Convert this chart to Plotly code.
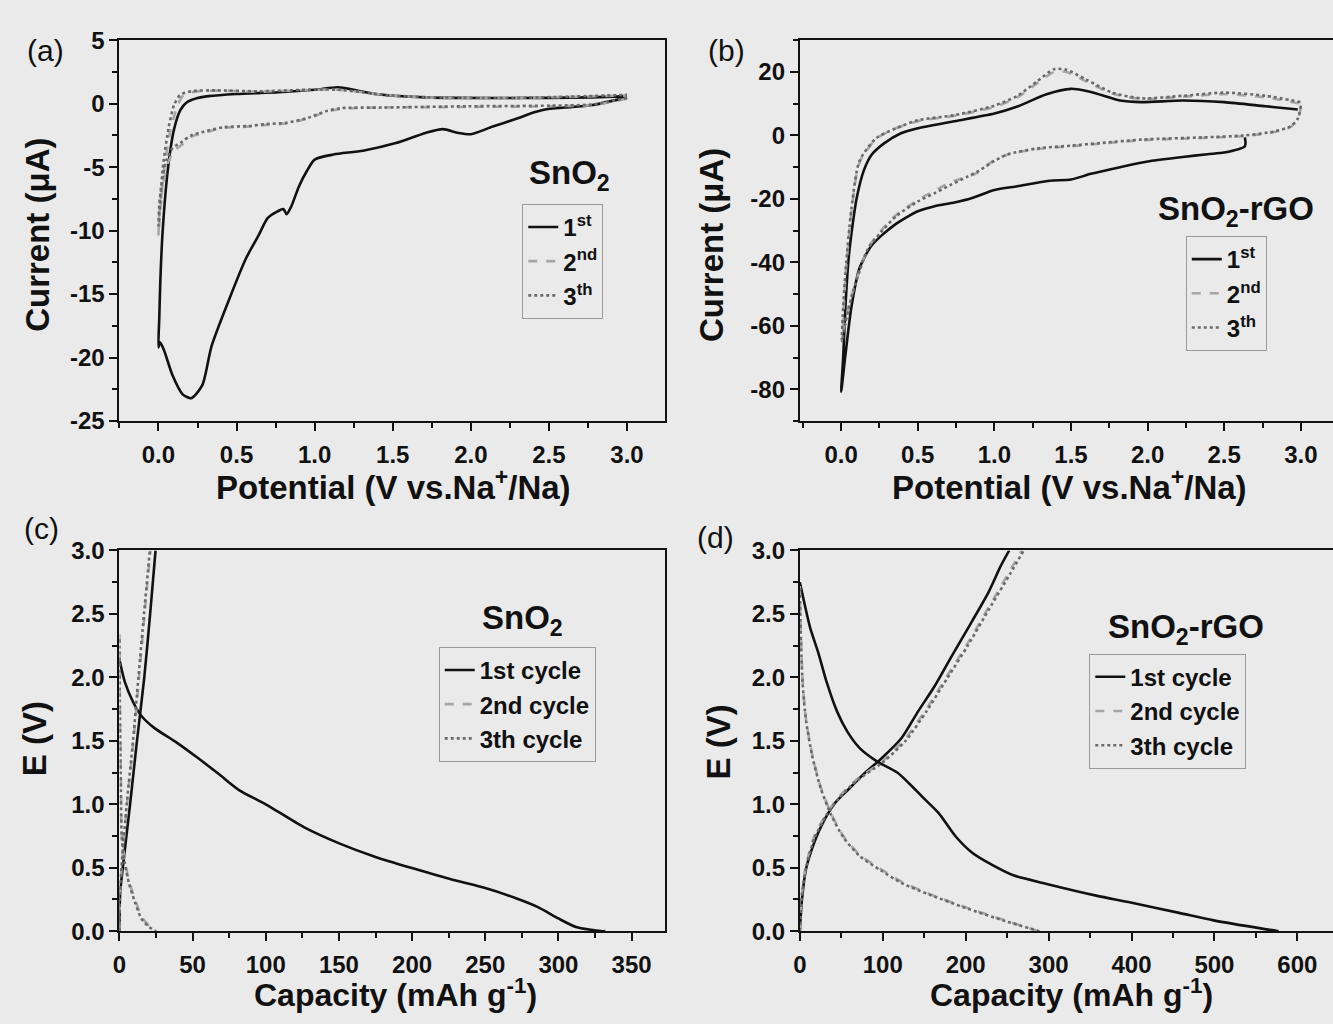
import plotly.graph_objects as go

W, H = 1333, 1024
def px(x):
    return x / W
def py(y):
    return 1 - y / H

BG = "#eaeaea"
FONT = "Liberation Sans, Arial, sans-serif"

# ---------------- Panel (a): CV of SnO2 ----------------
a1_v = [3.0, 2.78, 2.6, 2.5, 2.4, 2.3, 2.14, 2.0, 1.92, 1.82, 1.71, 1.52, 1.31, 1.12, 1.0, 0.95, 0.9,
        0.85, 0.82, 0.8, 0.76, 0.70, 0.64, 0.56, 0.45, 0.34, 0.28, 0.21, 0.155, 0.09, 0.035, 0.01, 0.0,
        0.005, 0.012, 0.027, 0.062, 0.1, 0.14, 0.18, 0.25, 0.32, 0.5, 0.77, 1.0, 1.15, 1.25, 1.39,
        1.71, 2.24, 2.78, 3.0]
a1_i = [0.5, -0.1, -0.3, -0.4, -0.7, -1.15, -1.8, -2.4, -2.3, -2.0, -2.3, -3.1, -3.7, -4.0, -4.4, -5.3, -6.5,
        -8.1, -8.7, -8.3, -8.5, -9.0, -10.4, -12.2, -15.5, -19.1, -22.2, -23.2, -22.9, -21.4, -19.4, -18.8, -19.2,
        -17.0, -14.0, -10.0, -5.0, -2.0, -0.5, 0.1, 0.45, 0.6, 0.77, 0.9, 1.1, 1.3, 1.1, 0.77,
        0.5, 0.45, 0.5, 0.6]

a2_v = [3.0, 2.78, 2.51, 1.98, 1.44, 1.17, 1.07, 0.96, 0.82, 0.69, 0.58, 0.42, 0.29, 0.21, 0.155, 0.10,
        0.06, 0.027, 0.008, 0.0, 0.01, 0.035, 0.075, 0.115, 0.155, 0.235, 0.37, 0.64, 1.0, 1.15, 1.31,
        1.44, 1.71, 2.24, 3.0]
a2_i = [0.4, -0.1, -0.2, -0.25, -0.3, -0.4, -0.65, -1.15, -1.55, -1.67, -1.8, -1.9, -2.3, -2.6, -3.2, -3.7,
        -4.7, -6.5, -8.3, -10.4, -8.8, -5.3, -2.2, -0.4, 0.6, 0.95, 1.03, 0.95, 1.1, 1.1, 0.9,
        0.7, 0.5, 0.45, 0.65]

a3_v = [3.0, 2.78, 2.51, 1.98, 1.44, 1.17, 1.07, 0.96, 0.82, 0.69, 0.58, 0.42, 0.29, 0.21, 0.15, 0.09,
        0.05, 0.02, 0.005, 0.0, 0.008, 0.03, 0.065, 0.1, 0.14, 0.22, 0.37, 0.64, 1.0, 1.15, 1.31,
        1.44, 1.71, 2.24, 3.0]
a3_i = [0.45, -0.05, -0.15, -0.2, -0.3, -0.35, -0.6, -1.1, -1.5, -1.6, -1.75, -1.85, -2.2, -2.5, -3.0, -3.5,
        -4.5, -6.3, -8.0, -9.6, -8.2, -4.8, -1.9, -0.1, 0.7, 1.0, 1.05, 0.98, 1.12, 1.1, 0.9,
        0.7, 0.52, 0.45, 0.7]

# ---------------- Panel (b): CV of SnO2-rGO ----------------
b1_v = [2.635, 2.635, 2.5, 2.39, 2.23, 2.0, 1.82, 1.63, 1.5, 1.36, 1.15, 1.0, 0.85, 0.74, 0.61, 0.5, 0.34,
        0.2, 0.12, 0.067, 0.027, 0.0, 0.013, 0.03, 0.05, 0.075, 0.1, 0.148, 0.2, 0.28, 0.39, 0.5, 0.74,
        1.0, 1.15, 1.34, 1.5, 1.63, 1.82, 1.96, 2.23, 2.5, 2.77, 2.98]
b1_i = [-0.6, -3.4, -5.4, -5.9, -6.8, -8.2, -10.0, -12.1, -13.9, -14.3, -16.0, -17.2, -19.8, -21.1, -22.3, -23.9, -28.5,
        -34.6, -41.8, -54.0, -69.5, -80.8, -70.0, -52.0, -38.0, -28.0, -20.0, -11.0, -6.0, -2.5, 0.7, 2.3, 4.5,
        6.9, 9.1, 13.0, 14.7, 13.7, 11.0, 10.5, 11.0, 10.5, 9.2, 8.2]

b2_v = [3.0, 2.98, 2.93, 2.82, 2.63, 2.36, 1.96, 1.69, 1.5, 1.28, 1.09, 1.0, 0.88, 0.82, 0.7, 0.61, 0.53,
        0.36, 0.26, 0.175, 0.12, 0.067, 0.027, 0.01, 0.015, 0.03, 0.07, 0.12, 0.23, 0.36, 0.5, 0.74,
        1.0, 1.15, 1.28, 1.39, 1.47, 1.6, 1.77, 1.96, 2.23, 2.5, 2.77, 3.0]
b2_i = [9.0, 5.0, 2.6, 1.0, -0.2, -0.8, -1.5, -2.6, -3.4, -4.3, -6.0, -7.8, -12.0, -13.0, -15.0, -17.5, -19.5,
        -25.0, -30.0, -35.5, -42.5, -50.5, -58.5, -62.5, -56.0, -43.0, -23.0, -8.5, -1.0, 2.3, 4.5, 6.2,
        9.0, 12.0, 16.5, 20.0, 20.0, 17.0, 13.2, 11.5, 12.2, 13.0, 12.0, 10.0]

b3_v = [3.0, 2.98, 2.93, 2.82, 2.63, 2.36, 1.96, 1.69, 1.5, 1.28, 1.09, 1.0, 0.9, 0.82, 0.71, 0.61, 0.5,
        0.36, 0.26, 0.175, 0.12, 0.067, 0.027, 0.005, 0.01, 0.027, 0.067, 0.12, 0.23, 0.36, 0.5, 0.74,
        1.0, 1.15, 1.28, 1.39, 1.47, 1.6, 1.77, 1.96, 2.23, 2.5, 2.77, 3.0]
b3_i = [9.4, 5.3, 2.8, 1.2, 0.0, -0.6, -1.3, -2.4, -3.2, -4.1, -5.9, -8.0, -11.1, -13.1, -15.7, -18.2, -20.8,
        -25.4, -30.5, -35.7, -42.8, -51.0, -59.2, -64.8, -57.0, -43.8, -23.0, -8.0, -0.8, 2.3, 4.8, 6.4,
        9.4, 12.5, 17.1, 20.9, 20.7, 17.6, 13.5, 11.7, 12.5, 13.5, 12.5, 10.5]

# ---------------- Panel (c): charge/discharge SnO2 ----------------
c1_q = [0, 3.8, 9.6, 14.8, 24, 38.7, 53, 67.7, 82, 100, 126, 150.6, 175, 200.6, 227.6, 250, 271, 286,
        300, 312, 329, 332, None, 0, 0.5, 2.3, 7.3, 12, 17, 21, 24.7]
c1_e = [2.14, 1.96, 1.8, 1.7, 1.6, 1.49, 1.37, 1.24, 1.11, 1.0, 0.82, 0.69, 0.585, 0.495, 0.405, 0.34, 0.26, 0.19,
        0.1, 0.033, 0.0, 0.0, None, 0.0, 0.3, 0.5, 1.0, 1.5, 2.0, 2.5, 3.0]

c2_q = [0, 0.3, 0.9, 1.7, 3.8, 6.7, 11, 15.4, 21, 25.6, None, 0, 0.4, 1.5, 5.2, 9.6, 13.4, 17.2, 21.2]
c2_e = [2.34, 1.78, 1.26, 0.75, 0.55, 0.39, 0.24, 0.11, 0.033, 0.0, None, 0.0, 0.3, 0.5, 1.0, 1.5, 2.0, 2.5, 3.0]

c3_q = [0, 0.3, 0.9, 1.6, 3.6, 6.5, 10.6, 15.0, 20.5, 25.0, None, 0, 0.4, 1.4, 5.0, 9.3, 13.0, 16.8, 20.8]
c3_e = [2.3, 1.76, 1.24, 0.74, 0.54, 0.38, 0.23, 0.1, 0.03, 0.0, None, 0.0, 0.3, 0.5, 1.0, 1.5, 2.0, 2.5, 3.0]

# ---------------- Panel (d): charge/discharge SnO2-rGO ----------------
d1_q = [0, 5, 12.5, 22.5, 32.5, 45, 57.5, 72.5, 92.5, 117.5, 132.5, 147.5, 167.5, 187.5, 207.5, 232.5,
        257.5, 299, 357.5, 399, 457.5, 499, 557.5, 577.5, None,
        0, 2.5, 7.5, 17.5, 27.5, 42.5, 57.5, 77.5, 100, 122.5, 142.5, 162.5, 182.5, 207.5, 227.5, 242.5, 252.5]
d1_e = [2.75, 2.6, 2.39, 2.19, 1.96, 1.73, 1.57, 1.44, 1.34, 1.25, 1.16, 1.06, 0.93, 0.75, 0.62, 0.52,
        0.44, 0.37, 0.28, 0.226, 0.144, 0.085, 0.02, 0.0, None,
        0.0, 0.24, 0.49, 0.7, 0.85, 1.01, 1.11, 1.24, 1.37, 1.52, 1.73, 1.93, 2.16, 2.44, 2.67, 2.88, 3.0]

d2_q = [0, 1.5, 3.5, 7.5, 15, 25, 37.5, 52.5, 72.5, 97.5, 122.5, 157.5, 199, 247.5, 287.5, None,
        0, 2.5, 7.5, 17.5, 32.5, 47.5, 67.5, 100, 127.5, 152.5, 177.5, 202.5, 227.5, 252.5, 267.5]
d2_e = [2.72, 2.29, 1.96, 1.67, 1.39, 1.14, 0.93, 0.75, 0.6, 0.49, 0.39, 0.29, 0.19, 0.085, 0.0, None,
        0.0, 0.29, 0.52, 0.75, 0.93, 1.06, 1.19, 1.34, 1.52, 1.75, 2.01, 2.27, 2.55, 2.83, 3.0]

d3_q = [0, 1.5, 3.5, 7.5, 15, 25, 37.5, 52.5, 72.5, 97.5, 122.5, 157.5, 199, 247.5, 289, None,
        0, 2.5, 7.5, 17.5, 32.5, 47.5, 67.5, 100, 127.5, 152.5, 177.5, 202.5, 227.5, 254, 270]
d3_e = [2.7, 2.27, 1.94, 1.66, 1.38, 1.13, 0.92, 0.74, 0.59, 0.48, 0.38, 0.285, 0.185, 0.08, 0.0, None,
        0.0, 0.28, 0.5, 0.73, 0.92, 1.05, 1.18, 1.33, 1.5, 1.73, 1.99, 2.25, 2.53, 2.82, 3.0]

cv_names = ["1<sup>st</sup>", "2<sup>nd</sup>", "3<sup>th</sup>"]
gc_names = ["1st cycle", "2nd cycle", "3th cycle"]

# tick values / labels
a_xt = [0, 0.5, 1.0, 1.5, 2.0, 2.5, 3.0]
a_xl = ["0.0", "0.5", "1.0", "1.5", "2.0", "2.5", "3.0"]
a_yt = [5, 0, -5, -10, -15, -20, -25]
a_yl = ["5", "0", "-5", "-10", "-15", "-20", "-25"]
b_yt = [20, 0, -20, -40, -60, -80]
b_yl = ["20", "0", "-20", "-40", "-60", "-80"]
e_yt = [0, 0.5, 1.0, 1.5, 2.0, 2.5, 3.0]
e_yl = ["0.0", "0.5", "1.0", "1.5", "2.0", "2.5", "3.0"]
c_xt = [0, 50, 100, 150, 200, 250, 300, 350]
c_xl = ["0", "50", "100", "150", "200", "250", "300", "350"]
d_xt = [0, 100, 200, 300, 400, 500, 600]
d_xl = ["0", "100", "200", "300", "400", "500", "600"]

styles = [dict(color="#111111", width=2.6, dash="solid", shape="spline", smoothing=0.7),
          dict(color="#a6a6a6", width=2.6, dash="dash", shape="spline", smoothing=0.7),
          dict(color="#6a6a6a", width=2.6, dash="dot", shape="spline", smoothing=0.7)]

fig = go.Figure()

panels = [
    ("x", "y", "legend", cv_names, [(a1_v, a1_i), (a2_v, a2_i), (a3_v, a3_i)]),
    ("x2", "y2", "legend2", cv_names, [(b1_v, b1_i), (b2_v, b2_i), (b3_v, b3_i)]),
    ("x3", "y3", "legend3", gc_names, [(c1_q, c1_e), (c2_q, c2_e), (c3_q, c3_e)]),
    ("x4", "y4", "legend4", gc_names, [(d1_q, d1_e), (d2_q, d2_e), (d3_q, d3_e)]),
]
for xa, ya, lg, names, series in panels:
    for (xs, ys), nm, st in zip(series, names, styles):
        fig.add_trace(go.Scatter(x=xs, y=ys, mode="lines", name=nm, line=st,
                                 xaxis=xa, yaxis=ya, legend=lg, connectgaps=False))

tickfont = dict(family=FONT, size=24, color="#111111", weight="bold")

def axis(domain, rng, tv, tt, minor_dtick, anchor, mirror=True, standoff=0):
    return dict(domain=domain, range=rng, tickmode="array", tickvals=tv, ticktext=tt,
                showgrid=False, zeroline=False, showline=True, linecolor="#111111", linewidth=2,
                mirror=mirror, ticks="outside", ticklen=8, tickwidth=2, tickcolor="#111111",
                minor=dict(tickmode="linear", tick0=0, dtick=minor_dtick, ticks="outside",
                           ticklen=5, tickwidth=2, tickcolor="#111111", showgrid=False),
                tickfont=tickfont, anchor=anchor, ticklabelstandoff=standoff)

top_y = [py(418), py(27)]
bot_y = [py(942), py(551)]
left_x = [px(113), px(661)]

fig.update_layout(
    width=W, height=H, margin=dict(l=0, r=0, t=0, b=0),
    paper_bgcolor=BG, plot_bgcolor=BG,
    font=dict(family=FONT, color="#111111"),
    xaxis=axis(left_x, [-0.25, 3.24], a_xt, a_xl, 0.25, "y", standoff=3),
    yaxis=axis(top_y, [-25, 5], a_yt, a_yl, 2.5, "x"),
    xaxis2=axis([px(797), 1.0], [-0.27, 3.21], a_xt, a_xl, 0.25, "y2", standoff=3),
    yaxis2=axis(top_y, [-90, 30], b_yt, b_yl, 10, "x2", mirror=False),
    xaxis3=axis(left_x, [0, 372.5], c_xt, c_xl, 25, "y3", standoff=3),
    yaxis3=axis(bot_y, [0, 3], e_yt, e_yl, 0.25, "x3"),
    xaxis4=axis([px(797), 1.0], [0, 643], d_xt, d_xl, 50, "y4", standoff=3),
    yaxis4=axis(bot_y, [0, 3], e_yt, e_yl, 0.25, "x4", mirror=False),
)

def legend(x, y):
    return dict(x=px(x), y=py(y), xanchor="left", yanchor="top", xref="paper", yref="paper",
                bgcolor="rgba(0,0,0,0)", bordercolor="#9a9a9a", borderwidth=1,
                font=dict(family=FONT, size=24, color="#111111", weight="bold"),
                tracegroupgap=0, itemwidth=30)

fig.update_layout(legend=legend(518, 195), legend2=legend(1185, 228),
                  legend3=legend(434, 650), legend4=legend(1088, 657))

def ann(text, x, y, size, bold=True, angle=0):
    fig.add_annotation(text=text, x=px(x), y=py(y), xref="paper", yref="paper",
                       xanchor="center", yanchor="middle", showarrow=False, textangle=angle,
                       font=dict(family=FONT, size=size, color="#111111",
                                 weight="bold" if bold else "normal"))

# panel labels
ann("(a)", 39, 37, 30, bold=False)
ann("(b)", 723, 37, 30, bold=False)
ann("(c)", 35, 528, 30, bold=False)
ann("(d)", 712, 538, 30, bold=False)
# sample labels
ann("SnO<sub>2</sub>", 565, 165, 33)
ann("SnO<sub>2</sub>-rGO", 1235, 202, 33)
ann("SnO<sub>2</sub>", 518, 622, 33)
ann("SnO<sub>2</sub>-rGO", 1185, 632, 33)
# axis titles
ann("Potential (V vs.Na<sup>+</sup>/Na)", 389, 484, 33)
ann("Potential (V vs.Na<sup>+</sup>/Na)", 1068, 484, 33)
ann("Capacity (mAh g<sup>-1</sup>)", 391, 1006, 32)
ann("Capacity (mAh g<sup>-1</sup>)", 1070, 1006, 32)
ann("Current (μA)", 30, 227, 33, angle=-90)
ann("Current (μA)", 708, 237, 33, angle=-90)
ann("E (V)", 28, 744, 33, angle=-90)
ann("E (V)", 715, 748, 33, angle=-90)

fig.write_html("out.html")
